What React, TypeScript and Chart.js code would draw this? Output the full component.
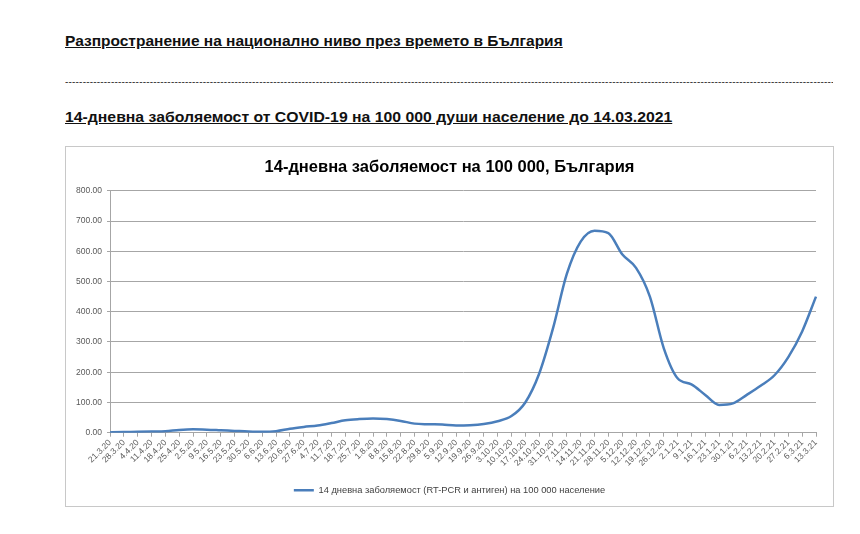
import React, { useEffect, useLayoutEffect, useRef, useState } from "react";
import { Chart, registerables } from "chart.js";

Chart.register(...registerables);

const pageTitle = "Разпространение на национално ниво през времето в България";
const subTitle = "14-дневна заболяемост от COVID-19 на 100 000 души население до 14.03.2021";
const chartTitle = "14-дневна заболяемост на 100 000, България";
const seriesName = "14 дневна заболяемост (RT-PCR и антиген) на 100 000 население";

const dateLabels = [
  "21.3.20", "28.3.20", "4.4.20", "11.4.20", "18.4.20", "25.4.20", "2.5.20", "9.5.20",
  "16.5.20", "23.5.20", "30.5.20", "6.6.20", "13.6.20", "20.6.20", "27.6.20", "4.7.20",
  "11.7.20", "18.7.20", "25.7.20", "1.8.20", "8.8.20", "15.8.20", "22.8.20", "29.8.20",
  "5.9.20", "12.9.20", "19.9.20", "26.9.20", "3.10.20", "10.10.20", "17.10.20", "24.10.20",
  "31.10.20", "7.11.20", "14.11.20", "21.11.20", "28.11.20", "5.12.20", "12.12.20", "19.12.20",
  "26.12.20", "2.1.21", "9.1.21", "16.1.21", "23.1.21", "30.1.21", "6.2.21", "13.2.21",
  "20.2.21", "27.2.21", "6.3.21", "13.3.21",
];

const incidence = [
  1, 2, 3, 4, 5, 9, 11, 10,
  8, 6, 4, 3, 5, 13, 19, 24,
  32, 41, 45, 47, 45, 39, 30, 28,
  27, 24, 25, 29, 38, 55, 100, 195,
  345, 525, 632, 668, 660, 590, 545, 450,
  280, 180, 160, 125, 92, 97, 125, 155,
  190, 250, 335, 450,
];

const yTicks = [0, 100, 200, 300, 400, 500, 600, 700, 800];

function FitText({ text, left, top, width, fontSize }: { text: string; left: number; top: number; width: number; fontSize: number }) {
  const ref = useRef<HTMLSpanElement>(null);
  const [sx, setSx] = useState(1);
  useLayoutEffect(() => {
    if (ref.current) {
      const w = ref.current.offsetWidth;
      if (w > 0) setSx(width / w);
    }
  }, [text, width]);
  return (
    <span
      ref={ref}
      style={{
        position: "absolute",
        left,
        top,
        whiteSpace: "nowrap",
        fontFamily: "'Liberation Sans', Arial, sans-serif",
        fontWeight: "bold",
        fontSize,
        lineHeight: "17px",
        textDecoration: "underline",
        color: "#111",
        transform: `scaleX(${sx})`,
        transformOrigin: "left top",
      }}
    >
      {text}
    </span>
  );
}

const centerBlocks = {
  id: "centerBlocks",
  afterLayout(chart: any) {
    const w = chart.width;
    for (const blk of [chart.titleBlock, chart.legend]) {
      if (blk) {
        blk.left = 0;
        blk.right = w;
        blk.width = w;
      }
    }
  },
};

export default function App() {
  const canvasRef = useRef<HTMLCanvasElement>(null);

  useEffect(() => {
    if (!canvasRef.current) return;
    const chart = new Chart(canvasRef.current, {
      type: "line",
      data: {
        labels: dateLabels,
        datasets: [
          {
            label: seriesName,
            data: incidence,
            borderColor: "rgb(74,126,187)",
            backgroundColor: "rgb(74,126,187)",
            borderWidth: 2.5,
            pointRadius: 0,
            cubicInterpolationMode: "monotone",
            fill: false,
          },
        ],
      },
      plugins: [centerBlocks],
      options: {
        animation: false,
        responsive: false,
        maintainAspectRatio: false,
        layout: { padding: { top: 11, left: 4, right: 17, bottom: 1 } },
        plugins: {
          title: {
            display: true,
            text: chartTitle,
            color: "#000",
            font: { family: "'Liberation Sans', Arial, sans-serif", size: 16.5, weight: "bold" },
            padding: { top: 0, bottom: 13 },
          },
          legend: {
            display: true,
            position: "bottom",
            labels: {
              usePointStyle: true,
              pointStyle: "line",
              pointStyleWidth: 20,
              color: "#404040",
              font: { family: "'Liberation Sans', Arial, sans-serif", size: 9.3 },
              padding: 9,
            },
          },
          tooltip: { enabled: false },
        },
        scales: {
          x: {
            type: "category",
            offset: false,
            grid: {
              display: true,
              drawOnChartArea: false,
              drawTicks: true,
              tickLength: 4,
              color: "#a6a6a6",
            },
            border: { display: true, color: "#a6a6a6" },
            ticks: {
              autoSkip: false,
              minRotation: 45,
              maxRotation: 45,
              color: "#595959",
              padding: 1,
              font: { family: "'Liberation Sans', Arial, sans-serif", size: 8.5 },
            },
            afterFit: (scale: any) => {
              scale.height = 44;
            },
          },
          y: {
            min: 0,
            max: 800,
            afterBuildTicks: (scale: any) => {
              scale.ticks = yTicks.map((v) => ({ value: v }));
            },
            grid: { color: "#a6a6a6", drawTicks: true, tickLength: 3 },
            border: { display: true, color: "#a6a6a6" },
            ticks: {
              color: "#595959",
              padding: 5,
              font: { family: "'Liberation Sans', Arial, sans-serif", size: 8.5 },
              callback: (v: any) => Number(v).toFixed(2),
            },
            afterFit: (scale: any) => {
              scale.width = 40;
            },
          },
        },
      },
    });
    return () => chart.destroy();
  }, []);

  return (
    <div style={{ position: "fixed", left: 0, top: 0, width: 860, height: 534, background: "#fff", overflow: "hidden" }}>
      <FitText text={pageTitle} left={65} top={32} width={498} fontSize={15} />
      <div
        style={{
          position: "absolute",
          left: 65,
          top: 75,
          width: 768,
          overflow: "hidden",
          whiteSpace: "nowrap",
          fontFamily: "'Liberation Sans', Arial, sans-serif",
          fontSize: 10,
          lineHeight: "14px",
          color: "#333",
          letterSpacing: "0.2px",
        }}
      >
        {"-".repeat(260)}
      </div>
      <FitText text={subTitle} left={65} top={108} width={607} fontSize={15} />
      <div
        style={{
          position: "absolute",
          left: 65,
          top: 146,
          width: 769,
          height: 361,
          border: "1px solid #c8c8c8",
          boxSizing: "border-box",
        }}
      />
      <canvas
        ref={canvasRef}
        width={767}
        height={359}
        style={{ position: "absolute", left: 66, top: 147, width: 767, height: 359 }}
      />
    </div>
  );
}
